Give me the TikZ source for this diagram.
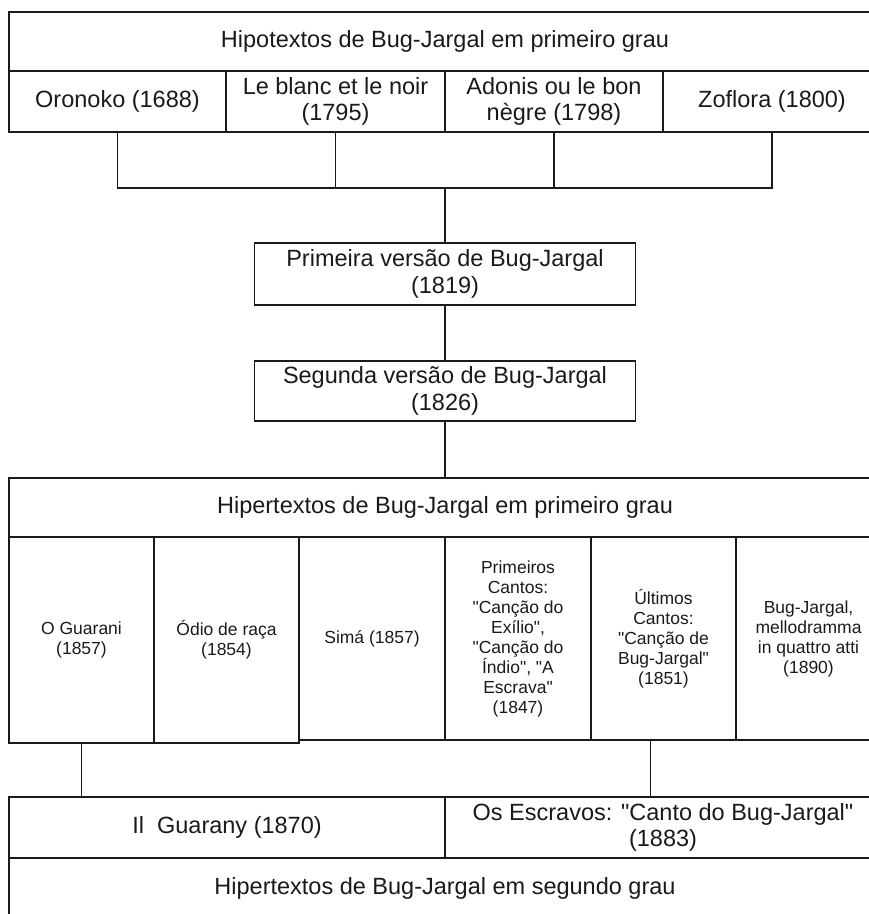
\documentclass[tikz,border=0pt]{standalone}
\usepackage{fontspec}
\setmainfont{Liberation Sans}
\usetikzlibrary{positioning, calc}
\definecolor{ink}{HTML}{1A1A1A}
\newcommand{\qt}{\textquotedbl}
\tikzset{%
  block/.style={draw=ink, rectangle, line width=1.8bp, align=center, inner sep=0pt, outer sep=0pt,
    text=ink, font=\fontsize{23.5bp}{26.5bp}\selectfont},
  cell/.style={block, minimum width=145bp, minimum height=203bp, anchor=north west,
    font=\fontsize{17.5bp}{20bp}\selectfont},
  link/.style={draw=ink, line width=1.8bp}
}
\begin{document}
\begin{tikzpicture}[x=1bp, y=-1bp]
  \useasboundingbox (0,0) rectangle (869,914);
  \clip (0,0) rectangle (869,914);

  % hipotextos
  \node[block, minimum width=872bp, minimum height=59bp, anchor=north west] (hipo) at (9,12) {Hipotextos de Bug-Jargal em primeiro grau};
  \node[block, minimum width=217bp, minimum height=61bp, anchor=north west] (oron) at (hipo.south west) {Oronoko (1688)};
  \node[block, minimum width=219bp, minimum height=61bp, right=0pt of oron] (blanc) {Le blanc et le noir\\(1795)};
  \node[block, minimum width=218bp, minimum height=61bp, right=0pt of blanc] (adon) {Adonis ou le bon\\nègre (1798)};
  \node[block, minimum width=218bp, minimum height=61bp, right=0pt of adon] (zofl) {Zoflora (1800)};
  \coordinate (join) at ([yshift=-56bp]adon.south west);

  % versoes
  \node[block, minimum width=381bp, minimum height=62bp, below=55bp of join] (prim) {Primeira versão de Bug-Jargal\\(1819)};
  \node[block, minimum width=381bp, minimum height=60bp, below=56bp of prim] (seg) {Segunda versão de Bug-Jargal\\(1826)};

  % hipertextos
  \node[block, minimum width=872bp, minimum height=59bp, below=57bp of seg] (hiper) {Hipertextos de Bug-Jargal em primeiro grau};
  \node[cell, minimum height=206bp] (guar) at (hiper.south west) {O Guarani\\(1857)};
  \node[cell, minimum height=206bp] (odio) at (guar.north east) {Ódio de raça\\(1854)};
  \node[cell, minimum width=146bp] (sima) at (odio.north east) {Simá (1857)};
  \node[cell, minimum width=146bp] (prcan) at (sima.north east) {Primeiros\\Cantos:\\\qt Canção do\\Exílio\qt,\\\qt Canção do\\Índio\qt, \qt A\\Escrava\qt\\(1847)};
  \node[cell] (ulti) at (prcan.north east) {Últimos\\Cantos:\\\qt Canção de\\Bug-Jargal\qt\\(1851)};
  \node[cell] (mello) at (ulti.north east) {Bug-Jargal,\\mellodramma\\in quattro atti\\(1890)};

  % segundo grau
  \node[block, minimum width=436bp, minimum height=61bp, anchor=north west] (ilg) at ([yshift=-54bp]guar.south west) {Il\ \ Guarany (1870)};
  \node[block, minimum width=436bp, minimum height=61bp, anchor=north west] (escr) at (ilg.north east) {Os Escravos: \qt Canto do Bug-Jargal\qt\\(1883)};
  \node[block, minimum width=872bp, minimum height=60bp, anchor=north west] (segu) at (ilg.south west) {Hipertextos de Bug-Jargal em segundo grau};

  \draw[link] (oron.south) |- (zofl.south |- join) -- (zofl.south);
  \draw[link] (blanc.south) -- (blanc.south |- join);
  \draw[link] (adon.south) -- (adon.south |- join);
  \draw[link] (join) -- (prim.north);
  \draw[link] (prim) -- (seg);
  \draw[link] (seg) -- (hiper);
  \draw[link] (guar.south) -- (guar.south |- ilg.north);
  \draw[link] ([xshift=-13bp]ulti.south) -- ([xshift=-13bp]ulti.south |- escr.north);
\end{tikzpicture}
\end{document}
